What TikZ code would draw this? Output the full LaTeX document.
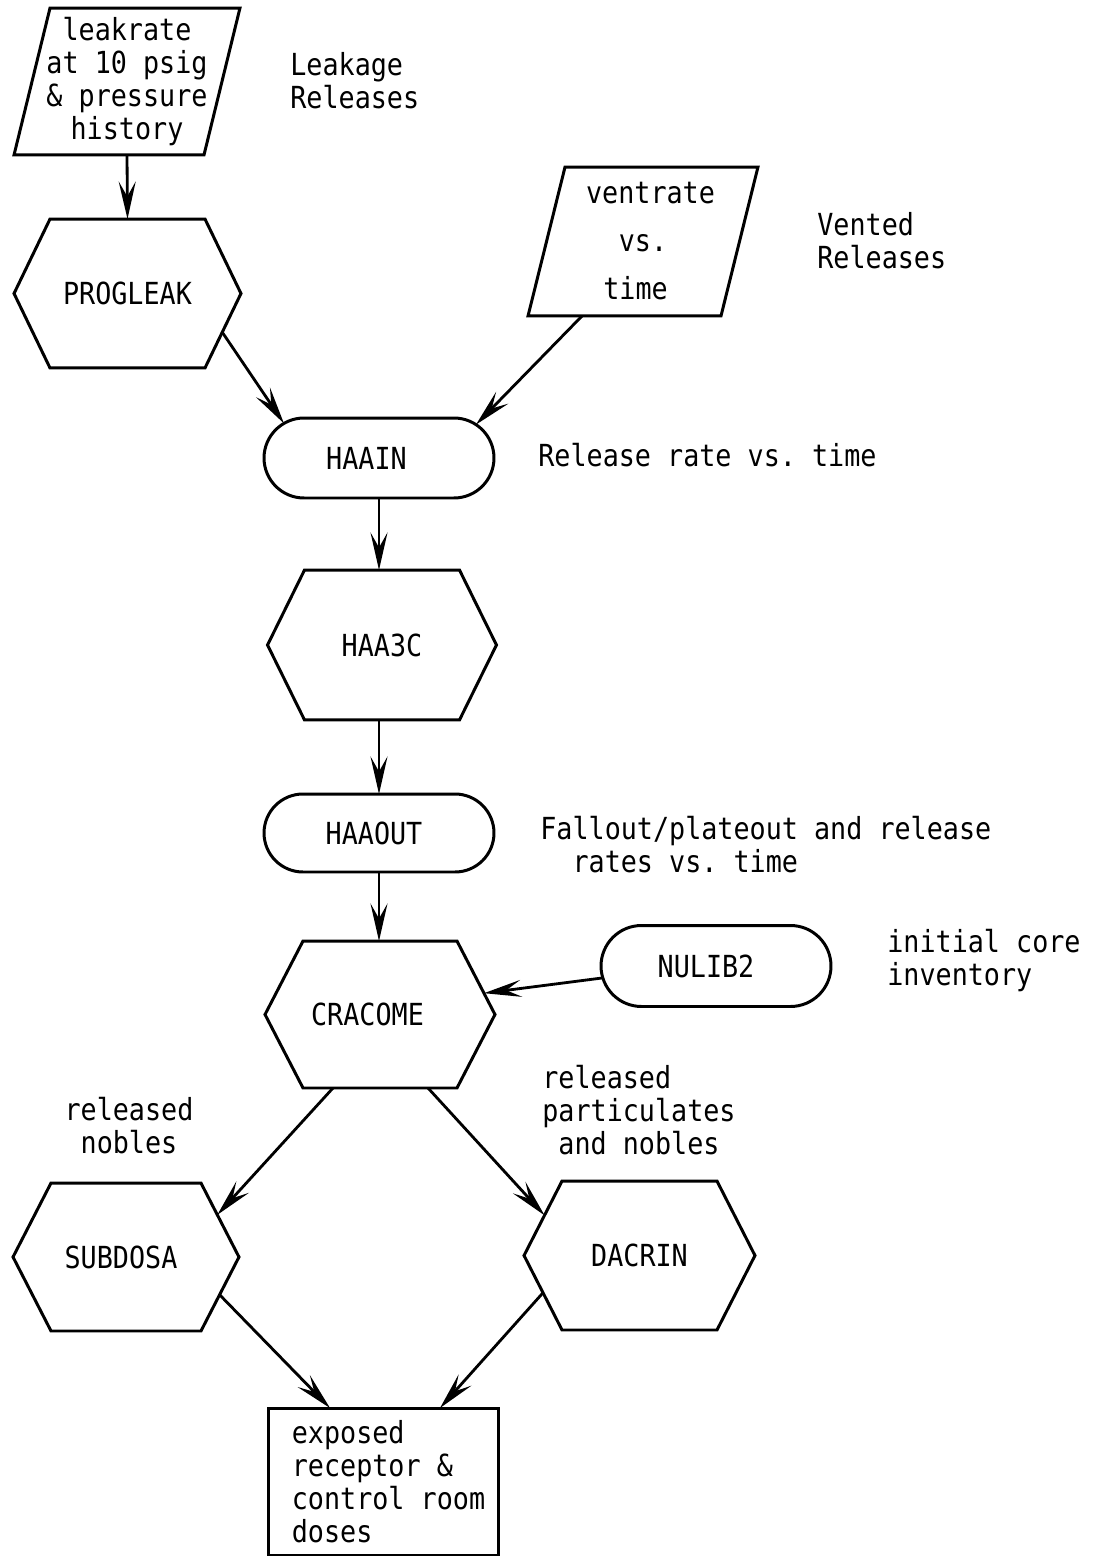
\documentclass[tikz,border=0pt]{standalone}
\usepackage{fontspec}
\setmainfont{DejaVu Sans Mono}[FakeStretch=0.88, WordSpace={1,0,0}]
\frenchspacing
\usetikzlibrary{arrows.meta,shapes.misc,calc}

% hexagon drawn round a bare node: node name, corner inset
\newcommand{\hexOutline}[2]{%
  \draw[flowLine] (#1.west) -- ([xshift=#2]#1.north west) coordinate (#1-nw)
    -- ([xshift=-#2]#1.north east) coordinate (#1-ne) -- (#1.east)
    -- ([xshift=-#2]#1.south east) coordinate (#1-se)
    -- ([xshift=#2]#1.south west) coordinate (#1-sw) -- cycle;}
% slanted input box round a bare node: node name, slant
\newcommand{\paraOutline}[2]{%
  \draw[flowLine] (#1.south west) -- ([xshift=-#2]#1.south east)
    -- (#1.north east) -- ([xshift=#2]#1.north west) -- cycle;}

\begin{document}
\begin{tikzpicture}[x=0.02cm, y=-0.02cm,
    every node/.style={font=\fontsize{17.3}{18.8}\selectfont},
    flowLine/.style={line width=1.7pt, line join=miter},
    flowArr/.style={line width=1.6pt, -{Stealth[length=0.75cm,width=0.34cm,inset=0.3cm]}},
    bareBox/.style={rectangle, inner sep=0pt, outer sep=0pt, align=center},
    codeRound/.style={rounded rectangle, draw, line width=1.7pt, inner sep=0pt, outer sep=0pt,
        minimum width=4.6cm, minimum height=1.6cm},
    noteTxt/.style={anchor=west, align=left, inner sep=0pt},
]
\useasboundingbox (0,0) rectangle (1099,1557);

% inputs
\node[bareBox, minimum width=4.52cm, minimum height=2.94cm] (leak) at (127,81.5)
    {leakrate\\at 10 psig\\\& pressure\\history};
\paraOutline{leak}{0.72cm}
\node[bareBox, minimum width=4.6cm, minimum height=2.98cm] (vent) at (643,241.5)
    {\hspace*{0.3cm}ventrate\\[8.5pt]vs.\\[8.5pt]time\hspace*{0.3cm}};
\paraOutline{vent}{0.74cm}

% codes
\node[bareBox, minimum width=4.54cm, minimum height=2.98cm] (prog) at (127.5,293.5) {PROGLEAK};
\hexOutline{prog}{0.72cm}
\node[codeRound] (haain) at (379,458) {HAAIN\hspace*{0.5cm}};
\node[bareBox, minimum width=4.58cm, minimum height=3cm] (haa3c) at (382,645) {HAA3C};
\hexOutline{haa3c}{0.74cm}
\node[codeRound, minimum height=1.56cm] (haaout) at (379,833) {HAAOUT\hspace*{0.2cm}};
\node[bareBox, minimum width=4.6cm, minimum height=2.94cm] (cracome) at (380,1014.5) {CRACOME\hspace*{0.5cm}};
\hexOutline{cracome}{0.76cm}
\node[codeRound, minimum height=1.62cm] (nulib) at (716,966) {NULIB2\hspace*{0.4cm}};
\node[bareBox, minimum width=4.52cm, minimum height=2.96cm] (subdosa) at (126,1257) {SUBDOSA\hspace*{0.2cm}};
\hexOutline{subdosa}{0.76cm}
\node[bareBox, minimum width=4.62cm, minimum height=2.98cm] (dacrin) at (639.5,1255.5) {DACRIN};
\hexOutline{dacrin}{0.76cm}

% output
\node[rectangle, draw, line width=1.7pt, outer sep=0pt, inner sep=0pt, align=left,
    minimum width=4.62cm, minimum height=2.94cm] (doses) at (383.5,1481.5)
    {\hspace*{0.2cm}exposed\\\hspace*{0.2cm}receptor \&\\\hspace*{0.2cm}control room\\\hspace*{0.2cm}doses};

% notes
\node[noteTxt] (leakNote) at (290,81) {Leakage\\Releases};
\node[noteTxt] (ventNote) at (817,241) {Vented\\Releases};
\node[noteTxt] (rateNote) at (538,455) {Release rate vs. time};
\node[noteTxt] (fallNote) at (540,845) {Fallout/plateout and release\\\phantom{Fa}rates vs. time};
\node[noteTxt] (coreNote) at (887,961) {initial core\\inventory};
\node[noteTxt] (partNote) at (542,1110) {released\\particulates\\\phantom{r}and nobles};
\node[inner sep=0pt, align=center] (nobNote) at (129,1126) {released\\nobles};

% connectors
\draw[flowArr] (leak.south) -- (prog.north);
\draw[flowArr] ($(prog.east)!.52!(prog-se)$) -- (haain.160);
\draw[flowArr] ([xshift=-1.22cm]vent.south) -- (haain.19);
\draw[flowArr] (haain.south) -- (haain.south |- haa3c.north);
\draw[flowArr] (haa3c.south -| haaout.north) -- (haaout.north);
\draw[flowArr] (haaout.south) -- (haaout.south |- cracome.north);
\draw[flowArr] (nulib.186) -- ($(cracome-ne)!.71!(cracome.east)$);
\draw[flowArr] ([xshift=-0.94cm]cracome.south) -- ($(subdosa-ne)!.43!(subdosa.east)$);
\draw[flowArr] ([xshift=0.96cm]cracome.south) -- ($(dacrin-nw)!.46!(dacrin.west)$);
\draw[flowArr] ($(subdosa.east)!.51!(subdosa-se)$) -- ([xshift=-1.07cm]doses.north);
\draw[flowArr] ($(dacrin.west)!.5!(dacrin-sw)$) -- ([xshift=1.13cm]doses.north);
\end{tikzpicture}
\end{document}
